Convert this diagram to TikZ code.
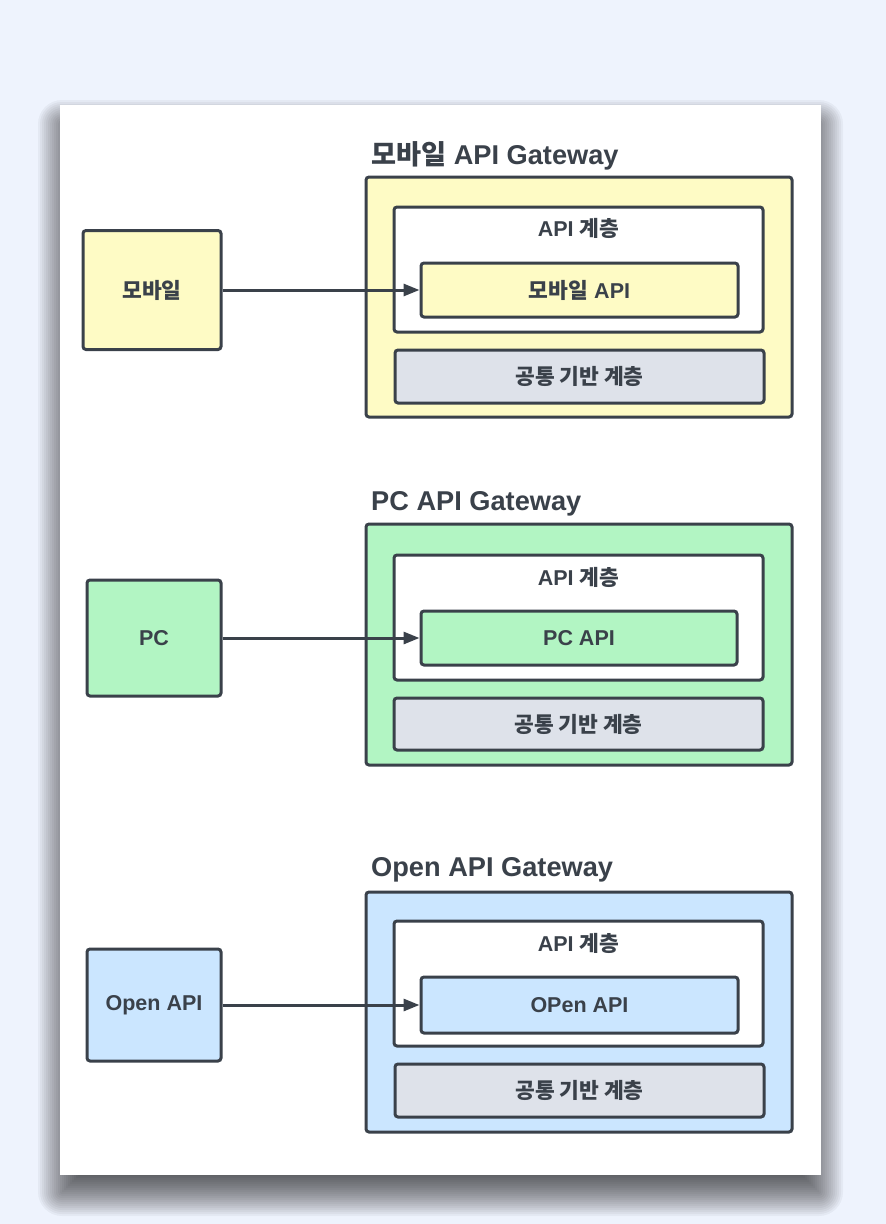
\documentclass[tikz,border=0pt]{standalone}
\usepackage{fontspec}
\setmainfont{Liberation Sans}
\newfontfamily\kr{Noto Sans CJK KR}
\usetikzlibrary{arrows.meta}

\definecolor{bgblue}{HTML}{EEF3FD}
\definecolor{ink}{HTML}{3A414A}
\definecolor{fillyellow}{HTML}{FEFBC5}
\definecolor{fillgreen}{HTML}{B2F5C3}
\definecolor{fillblue}{HTML}{CBE6FF}
\definecolor{fillgrey}{HTML}{DEE2EA}

\tikzset{
  box/.style={draw=ink, line width=3pt, rounded corners=3pt, inner sep=0pt,
    text=ink, font=\bfseries\fontsize{21.5}{25}\selectfont},
  caption/.style={text=ink, inner sep=0pt, anchor=base west,
    font=\bfseries\fontsize{27.2}{31}\selectfont},
  layertitle/.style={text=ink, inner sep=0pt,
    font=\bfseries\fontsize{21.5}{25}\selectfont},
  arr/.style={draw=ink, line width=3pt, -{Triangle[length=16pt,width=12pt]}},
  shadowlayer/.style={fill=black, fill opacity=0.04}
}

\begin{document}
\begin{tikzpicture}[x=1pt,y=-1pt]
  % background
  \fill[bgblue] (0,0) rectangle (886,1224);
  \useasboundingbox (0,0) rectangle (886,1224);

  % soft drop shadow of the sheet, built from stacked translucent layers
  \foreach \e in {24,22,...,-24} {
    \pgfmathsetmacro\rc{max(\e,0.5)}
    \fill[shadowlayer, rounded corners=\rc pt]
      (62-\e, 124-\e) rectangle (819+\e, 1192+\e);
  }
  % the white sheet
  \fill[white] (60,105) rectangle (821,1175);

  % ---------- mobile gateway ----------
  \node[caption] (cap1) at (371,164) {{\kr 모바일} API Gateway};
  \node[box, fill=fillyellow, minimum width=426pt, minimum height=240pt] (gw1) at (579,297) {};
  \node[box, fill=white, minimum width=369pt, minimum height=125pt] (lay1) at (578.5,269.5) {};
  \node[layertitle] (lt1) at (578.5,228) {API {\kr 계층}};
  \node[box, fill=fillyellow, minimum width=317pt, minimum height=54pt] (api1) at (579.5,290) {{\kr 모바일} API};
  \node[box, fill=fillgrey, minimum width=369pt, minimum height=53pt] (com1) at (579.5,376.5) {\kr 공통 기반 계층};
  \node[box, fill=fillyellow, minimum width=138pt, minimum height=119pt] (src1) at (152,290) {\kr 모바일};
  \draw[arr] (src1) -- (api1);

  % ---------- PC gateway ----------
  \node[caption] (cap2) at (371,510) {PC API Gateway};
  \node[box, fill=fillgreen, minimum width=426pt, minimum height=241pt] (gw2) at (579,644.5) {};
  \node[box, fill=white, minimum width=369pt, minimum height=125pt] (lay2) at (578.5,617.5) {};
  \node[layertitle] (lt2) at (578.5,577) {API {\kr 계층}};
  \node[box, fill=fillgreen, minimum width=316pt, minimum height=54pt] (api2) at (579,638) {PC API};
  \node[box, fill=fillgrey, minimum width=369pt, minimum height=52pt] (com2) at (578.5,724) {\kr 공통 기반 계층};
  \node[box, fill=fillgreen, minimum width=134pt, minimum height=116pt] (src2) at (154,638) {PC};
  \draw[arr] (src2) -- (api2);

  % ---------- Open API gateway ----------
  \node[caption] (cap3) at (371,876) {Open API Gateway};
  \node[box, fill=fillblue, minimum width=426pt, minimum height=240pt] (gw3) at (579,1012) {};
  \node[box, fill=white, minimum width=369pt, minimum height=125pt] (lay3) at (578.5,983.5) {};
  \node[layertitle] (lt3) at (578.5,943) {API {\kr 계층}};
  \node[box, fill=fillblue, minimum width=317pt, minimum height=56pt] (api3) at (579.5,1005) {OPen API};
  \node[box, fill=fillgrey, minimum width=369pt, minimum height=53pt] (com3) at (579.5,1090.5) {\kr 공통 기반 계층};
  \node[box, fill=fillblue, minimum width=134pt, minimum height=112pt] (src3) at (154,1005) {Open API};
  \draw[arr] (src3) -- (api3);
\end{tikzpicture}
\end{document}
